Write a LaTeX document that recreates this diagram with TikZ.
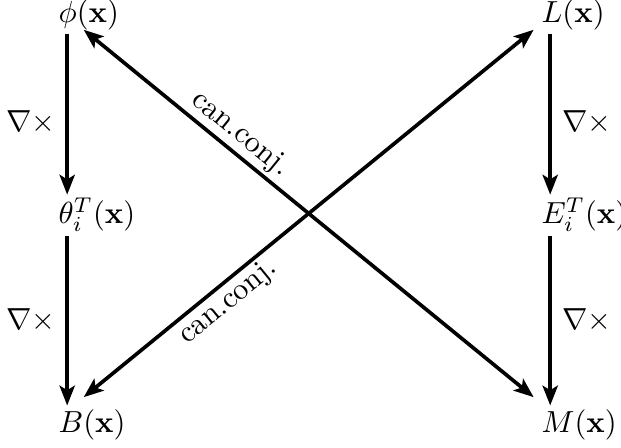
\documentclass[tikz,border=0pt]{standalone}
\usetikzlibrary{arrows.meta}
\begin{document}
\begin{tikzpicture}[
  term/.style={inner sep=1pt, anchor=base west},
  curlarr/.style={very thick, -{Stealth[length=6.5pt,width=5pt,inset=1.5pt]}},
  conjarr/.style={very thick, {Stealth[length=6.5pt,width=5pt,inset=1.5pt]}-{Stealth[length=6.5pt,width=5pt,inset=1.5pt]},
    shorten <=7pt, shorten >=7pt},
  conjlab/.style={sloped, inner sep=1pt}
]
\useasboundingbox (0,0) rectangle (7.160,5.165);
% left column: potential -> theta -> B
\node[term] (phi)   at (0.634,4.907) {$\phi(\mathbf{x})$};
\node[term] (theta) at (0.634,2.583) {$\theta_i^T(\mathbf{x})$};
\node[term] (B)     at (0.634,0.184) {$B(\mathbf{x})$};
% right column: L -> E -> M
\node[term] (L) at (6.203,4.907) {$L(\mathbf{x})$};
\node[term] (E) at (6.203,2.583) {$E_i^T(\mathbf{x})$};
\node[term] (M) at (6.203,0.184) {$M(\mathbf{x})$};
% curls
\draw[curlarr] ([xshift=4pt]phi.south west) -- ([xshift=4pt]theta.north west) node[left, pos=.55] {$\nabla\times$};
\draw[curlarr] ([xshift=4pt]theta.south west) -- ([xshift=4pt]B.north west) node[left, pos=.5] {$\nabla\times$};
\draw[curlarr] ([xshift=4pt]L.south west) -- ([xshift=4pt]E.north west) node[right, pos=.55] {$\nabla\times$};
\draw[curlarr] ([xshift=4pt]E.south west) -- ([xshift=4pt]M.north west) node[right, pos=.5] {$\nabla\times$};
% canonical conjugates
\draw[conjarr] ([shift={(4pt,2pt)}]phi.base west) -- ([shift={(4pt,7pt)}]M.base west) node[conjlab, above, pos=.335] {can.conj.};
\draw[conjarr] ([shift={(4pt,7pt)}]B.base west) -- ([shift={(4pt,2pt)}]L.base west) node[conjlab, below, pos=.31] {can.conj.};
\end{tikzpicture}
\end{document}
